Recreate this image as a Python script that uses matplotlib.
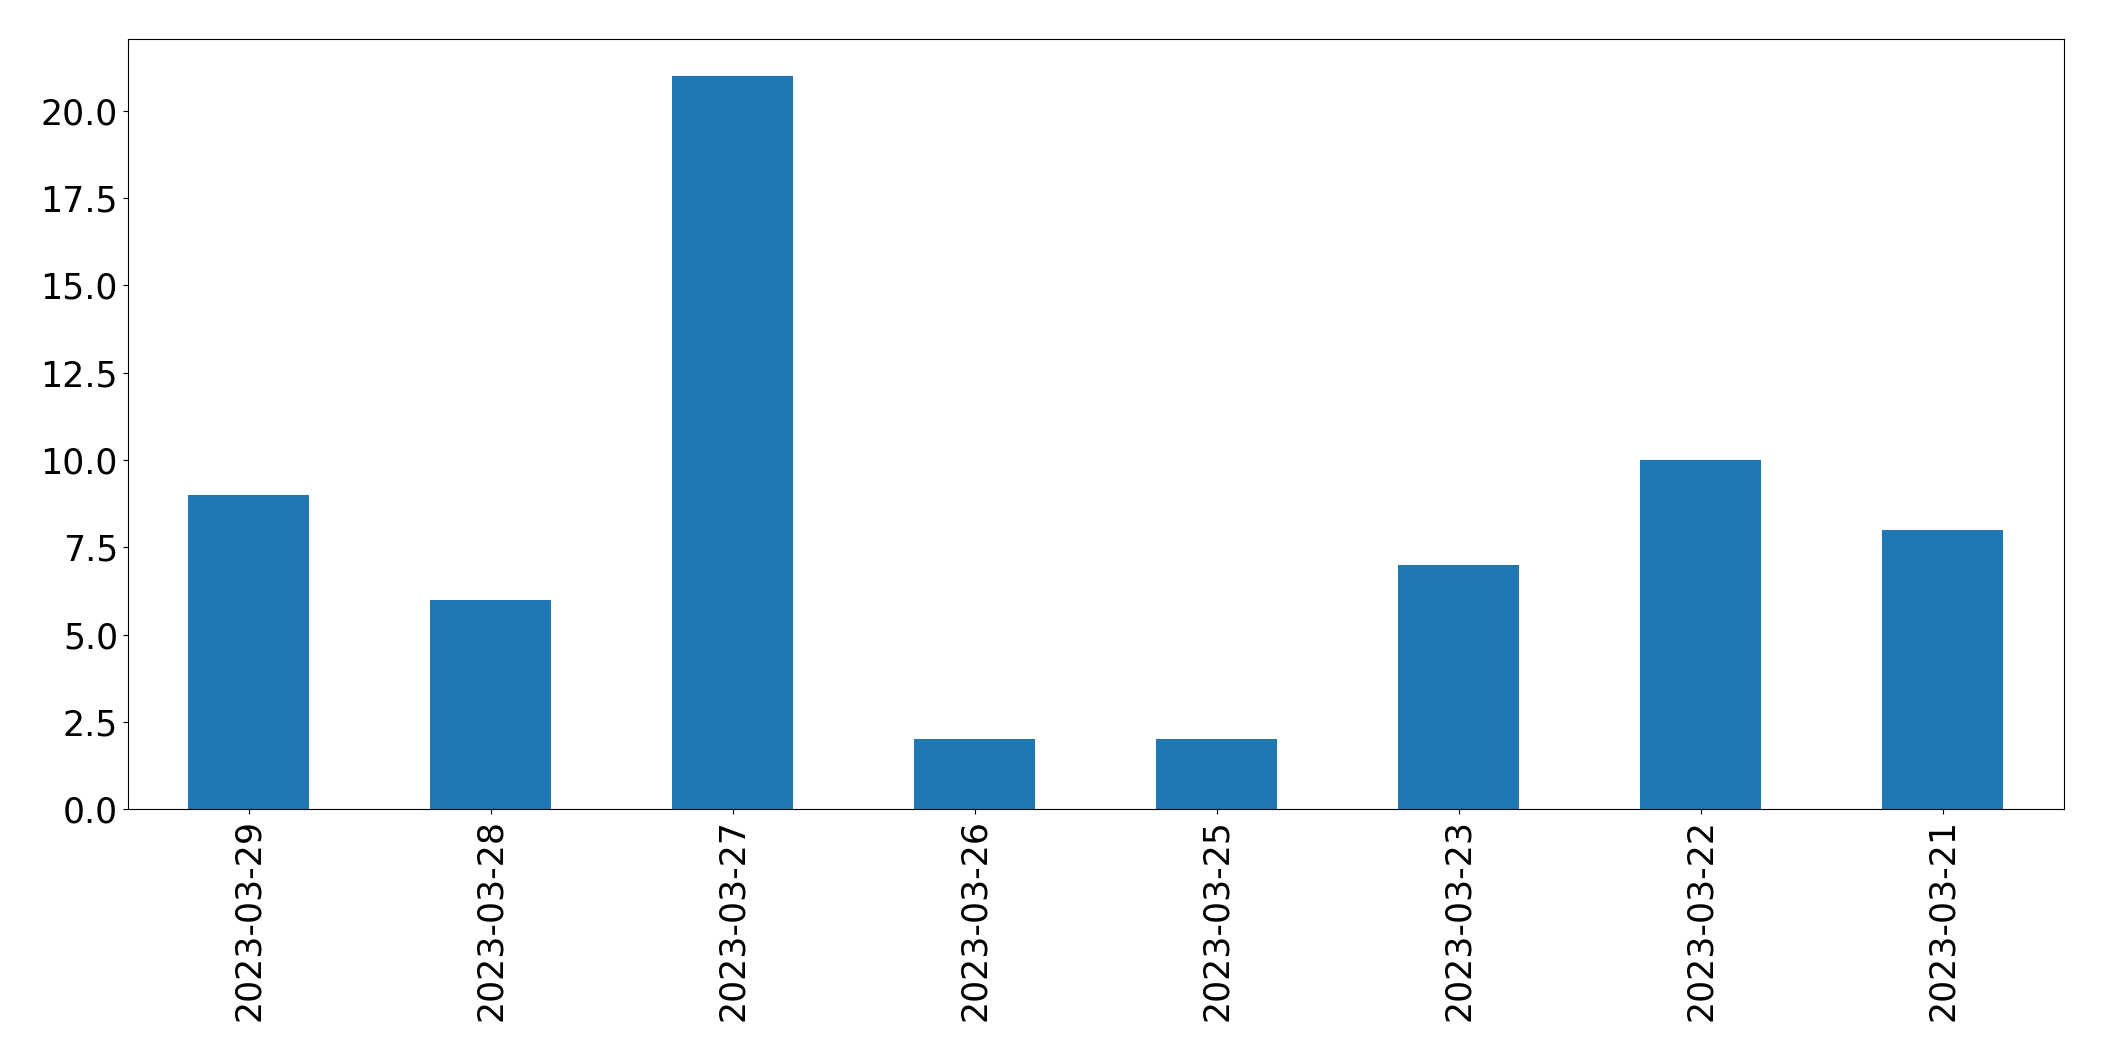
import matplotlib
matplotlib.use("Agg")
import matplotlib.pyplot as plt
import pandas as pd

dates = ["2023-03-29", "2023-03-28", "2023-03-27", "2023-03-26",
         "2023-03-25", "2023-03-23", "2023-03-22", "2023-03-21"]
counts = [9, 6, 21, 2, 2, 7, 10, 8]

s = pd.Series(counts, index=dates)

fig = plt.figure(figsize=(21.04, 10.61), dpi=100)
ax = fig.add_axes([127.7 / 2104, 1 - 809.3 / 1061, (2064 - 127.7) / 2104, (809.3 - 39) / 1061])
s.plot(kind="bar", ax=ax, color="#1f77b4", fontsize=25)
fig.savefig("out.png", dpi=100)
